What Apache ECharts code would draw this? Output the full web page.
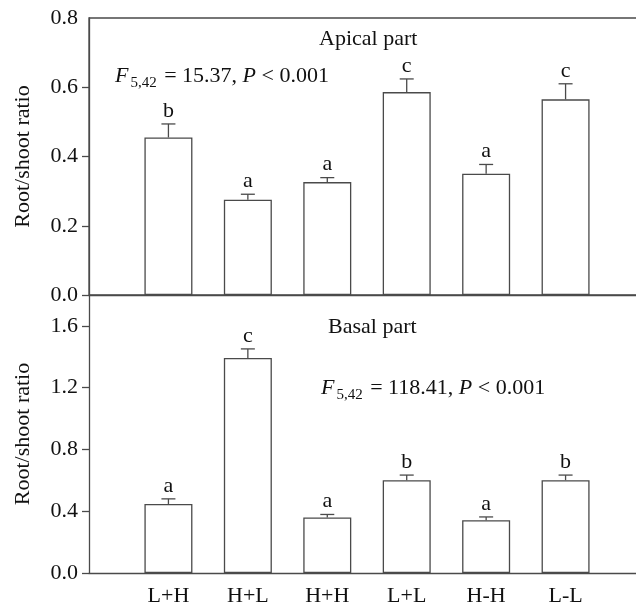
<!DOCTYPE html>
<html><head><meta charset="utf-8">
<script src="https://cdn.jsdelivr.net/npm/echarts@6/dist/echarts.min.js"></script>
<style>html,body{margin:0;padding:0;background:#fff}#c{width:636px;height:606px}</style>
</head><body><div id="c"></div>
<script>
const categories = ['L+H', 'H+L', 'H+H', 'L+L', 'H-H', 'L-L'];
const apicalMean = [0.455, 0.275, 0.326, 0.586, 0.350, 0.565];
const apicalSE = [0.039, 0.016, 0.013, 0.038, 0.027, 0.045];
const apicalLetters = ['b', 'a', 'a', 'c', 'a', 'c'];
const basalMean = [0.447, 1.392, 0.359, 0.601, 0.342, 0.601];
const basalSE = [0.033, 0.059, 0.020, 0.033, 0.021, 0.033];
const basalLetters = ['a', 'c', 'a', 'b', 'a', 'b'];
const apicalTicks = [0, 0.2, 0.4, 0.6, 0.8];
const basalTicks = [0, 0.4, 0.8, 1.2, 1.6];

const FONT = '"Liberation Serif", "Times New Roman", serif';
const LINE = '#4a4a4a';
const TXT = '#111';

const padded = [' '].concat(categories, ['  ']);
function barData(vals) { return ['-'].concat(vals, ['-']); }
function errData(vals, se) { return vals.map((v, i) => [i + 1, v, v + se[i]]); }

function errItem(letters) {
  return function (params, api) {
    const x = api.value(0), m = api.value(1), t = api.value(2);
    const p0 = api.coord([x, m]);
    const p1 = api.coord([x, t]);
    const hw = 7;
    return {
      type: 'group',
      children: [
        { type: 'line', shape: { x1: p0[0], y1: p0[1], x2: p1[0], y2: p1[1] }, style: { stroke: LINE, lineWidth: 1.3 } },
        { type: 'line', shape: { x1: p1[0] - hw, y1: p1[1], x2: p1[0] + hw, y2: p1[1] }, style: { stroke: LINE, lineWidth: 1.3 } },
        { type: 'text', style: { text: letters[params.dataIndex], x: p1[0], y: p1[1] - 2, align: 'center', verticalAlign: 'bottom', fontSize: 22, fontFamily: FONT, fill: TXT } }
      ]
    };
  };
}

function yAxisBase(max, interval, ticks, tickVals, gridIndex) {
  return {
    type: 'value', gridIndex: gridIndex, min: 0, max: max, interval: interval,
    name: 'Root/shoot ratio', nameLocation: 'middle', nameGap: 55,
    nameTextStyle: { fontSize: 22, fontFamily: FONT, color: TXT },
    axisLine: { show: true, lineStyle: { color: LINE, width: 1.3 } },
    axisTick: { show: true, inside: false, length: 7, lineStyle: { color: LINE, width: 1.3 }, customValues: tickVals },
    axisLabel: { fontSize: 22, fontFamily: FONT, color: TXT, margin: 11, customValues: ticks, formatter: v => Number(v).toFixed(1) },
    splitLine: { show: false }
  };
}

const rich = {
  i: { fontSize: 22, fontFamily: FONT, fontStyle: 'italic', fill: TXT, lineHeight: 30 },
  n: { fontSize: 22, fontFamily: FONT, fill: TXT, lineHeight: 30 },
  s: { fontSize: 15, fontFamily: FONT, fill: TXT, lineHeight: 15, verticalAlign: 'bottom', padding: [0, 2, 0, 2] }
};

const chart = echarts.init(document.getElementById('c'), null, { renderer: 'canvas' });
chart.setOption({
  backgroundColor: '#fff',
  animation: false,
  grid: [
    { left: 89, top: 18, width: 556, height: 277, show: true, borderColor: LINE, borderWidth: 1.3, backgroundColor: 'transparent', outerBoundsMode: 'none', containLabel: false },
    { left: 89, top: 295, width: 556, height: 278, outerBoundsMode: 'none', containLabel: false }
  ],
  xAxis: [
    { type: 'category', gridIndex: 0, data: padded, boundaryGap: false,
      axisLine: { show: true, lineStyle: { color: LINE, width: 1.3 } }, axisTick: { show: false }, axisLabel: { show: false } },
    { type: 'category', gridIndex: 1, data: padded, boundaryGap: false,
      axisLine: { show: true, lineStyle: { color: LINE, width: 1.3 } }, axisTick: { show: false },
      axisLabel: { show: true, interval: 0, fontSize: 22, fontFamily: FONT, color: TXT, margin: 12 } }
  ],
  yAxis: [
    yAxisBase(0.8, 0.2, apicalTicks, apicalTicks.slice(0, 4), 0),
    yAxisBase(1.8, 0.4, basalTicks, basalTicks, 1)
  ],
  series: [
    { type: 'bar', xAxisIndex: 0, yAxisIndex: 0, data: barData(apicalMean), barWidth: 48,
      itemStyle: { color: '#fff', borderColor: LINE, borderWidth: 1.3 }, silent: true },
    { type: 'custom', xAxisIndex: 0, yAxisIndex: 0, data: errData(apicalMean, apicalSE), renderItem: errItem(apicalLetters), encode: { x: 0, y: [1, 2] }, silent: true, z: 3 },
    { type: 'bar', xAxisIndex: 1, yAxisIndex: 1, data: barData(basalMean), barWidth: 48,
      itemStyle: { color: '#fff', borderColor: LINE, borderWidth: 1.3 }, silent: true },
    { type: 'custom', xAxisIndex: 1, yAxisIndex: 1, data: errData(basalMean, basalSE), renderItem: errItem(basalLetters), encode: { x: 0, y: [1, 2] }, silent: true, z: 3 }
  ],
  graphic: [
    { type: 'text', left: 319, top: 28, style: { text: 'Apical part', fontSize: 22, fontFamily: FONT, fill: TXT } },
    { type: 'text', x: 115, y: 76, style: { text: '{i|F}{s|5,42}{n| = 15.37, }{i|P}{n| < 0.001}', rich: rich, verticalAlign: 'middle' } },
    { type: 'text', left: 328, top: 316, style: { text: 'Basal part', fontSize: 22, fontFamily: FONT, fill: TXT } },
    { type: 'text', x: 321, y: 388, style: { text: '{i|F}{s|5,42}{n| = 118.41, }{i|P}{n| < 0.001}', rich: rich, verticalAlign: 'middle' } }
  ]
});
</script></body></html>
